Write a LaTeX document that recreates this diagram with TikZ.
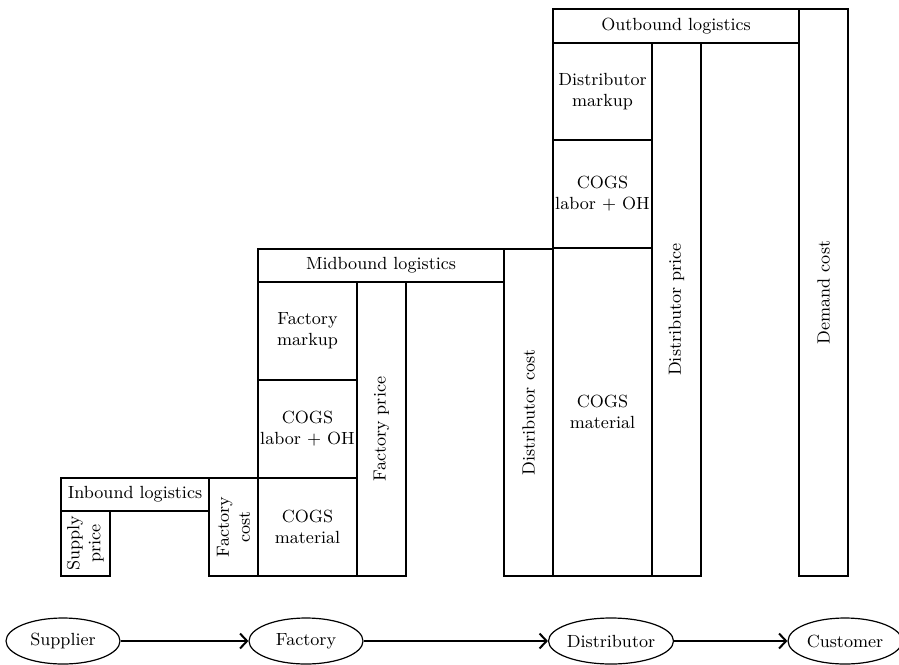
\documentclass[tikz,border=0pt]{standalone}
\usetikzlibrary{arrows.meta,shapes.geometric}
\begin{document}
\begin{tikzpicture}[x=0.5pt,y=-0.5pt,
  font=\fontsize{8.8}{10.5}\selectfont,
  cell/.style={draw=black, line width=0.6pt, inner sep=0pt, align=center},
  vcell/.style={cell, rotate=90},
  party/.style={draw=black, line width=0.6pt, ellipse, inner sep=0pt,
    minimum width=57pt, minimum height=23pt},
  flow/.style={line width=1pt, -{Straight Barb[length=3.5pt,width=7.5pt,line width=1pt]}}
]
\useasboundingbox (0,0) rectangle (899,664);

% supplier stage
\node[cell, minimum width=74pt, minimum height=16.5pt] (inb) at (135,494.5) {Inbound logistics};
\node[vcell, minimum width=32.5pt, minimum height=24.5pt] (sprice) at (85.5,543.5) {Supply\\price};

% factory stage
\node[vcell, minimum width=49pt, minimum height=24.5pt] (fcost) at (233.5,527) {Factory\\cost};
\node[cell, minimum width=49.5pt, minimum height=49pt] (fmat) at (307.5,527) {COGS\\material};
\node[cell, minimum width=49.5pt, minimum height=49pt] (flab) at (307.5,429) {COGS\\labor + OH};
\node[cell, minimum width=49.5pt, minimum height=49pt] (fmark) at (307.5,331) {Factory\\markup};
\node[cell, minimum width=123pt, minimum height=16.5pt] (mid) at (381,265.5) {Midbound logistics};
\node[vcell, minimum width=147pt, minimum height=24.5pt] (fprice) at (381.5,429) {Factory price};

% distributor stage
\node[vcell, minimum width=163.5pt, minimum height=24.5pt] (dcost) at (528.5,412.5) {Distributor cost};
\node[cell, minimum width=49.5pt, minimum height=164pt] (dmat) at (602.5,412) {COGS\\material};
\node[cell, minimum width=49.5pt, minimum height=54pt] (dlab) at (602.5,194) {COGS\\labor + OH};
\node[cell, minimum width=49.5pt, minimum height=48.5pt] (dmark) at (602.5,91.5) {Distributor\\markup};
\node[cell, minimum width=123pt, minimum height=17pt] (outb) at (676,26) {Outbound logistics};
\node[vcell, minimum width=266.5pt, minimum height=24.5pt] (dprice) at (676.5,309.5) {Distributor price};

% customer stage
\node[vcell, minimum width=283.5pt, minimum height=24.5pt] (demand) at (823.5,292.5) {Demand cost};

% supply chain
\node[party] (supplier) at (63,641) {Supplier};
\node[party] (factory) at (306,641) {Factory};
\node[party] (distributor) at (611,641) {Distributor};
\node[party] (customer) at (845,641) {Customer};

\draw[flow] (supplier) -- (factory);
\draw[flow] (factory) -- (distributor);
\draw[flow] (distributor) -- (customer);
\end{tikzpicture}
\end{document}
